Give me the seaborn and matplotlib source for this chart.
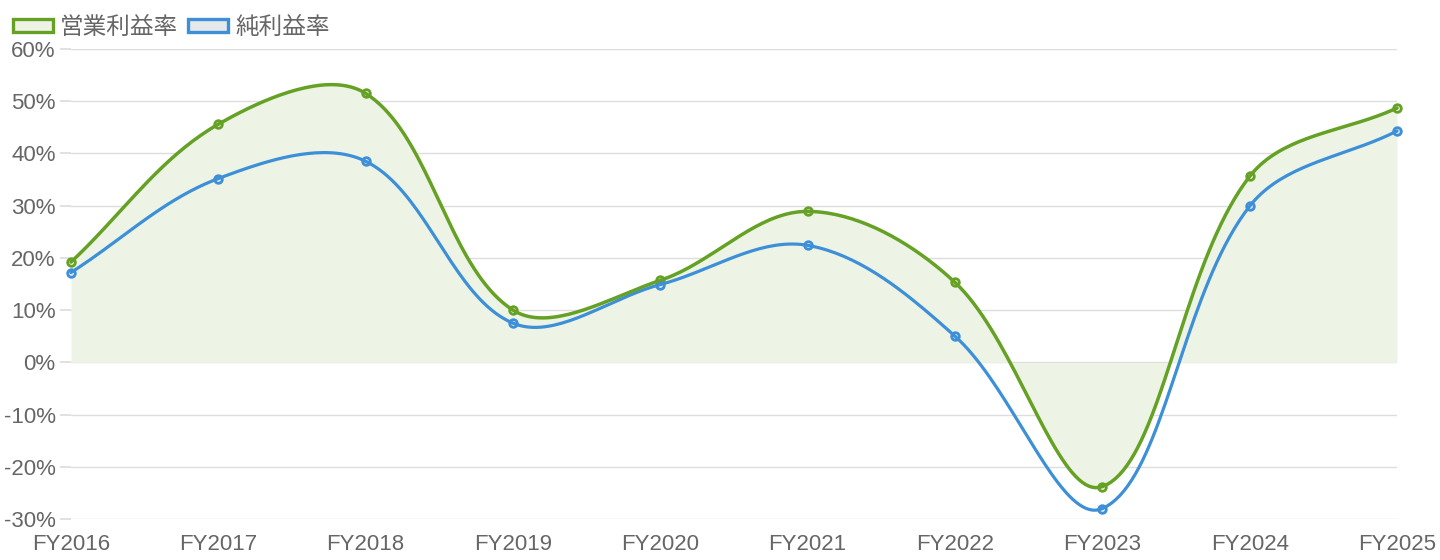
import numpy as np
import pandas as pd
import seaborn as sns
import matplotlib.pyplot as plt
from matplotlib.patches import Patch

# data
years = ["FY2016", "FY2017", "FY2018", "FY2019", "FY2020",
         "FY2021", "FY2022", "FY2023", "FY2024", "FY2025"]
operating_margin = [19.2, 45.6, 51.5, 10.0, 15.7, 28.9, 15.3, -23.8, 35.6, 48.7]
net_margin = [17.2, 35.2, 38.5, 7.5, 14.9, 22.4, 5.0, -28.0, 29.9, 44.3]
y_ticks = [-30, -20, -10, 0, 10, 20, 30, 40, 50, 60]

GREEN = "#65a125"
BLUE = "#3d8fd8"
GREEN_FILL = "#edf4e5"
GRID = "#dddddd"
TEXT = "#666666"

# pixel size of one unit on each axis (used for spline tension, like Chart.js)
PX_X = 147.3
PX_Y = 5.22


def smooth(values, tension=0.35, n=40):
    """Cubic bezier through the points, same control-point rule as Chart.js."""
    px = np.arange(len(values)) * PX_X
    py = np.array(values) * PX_Y
    pts = np.column_stack([px, py])
    cp_prev, cp_next = [], []
    for i in range(len(pts)):
        prev = pts[max(i - 1, 0)]
        cur = pts[i]
        nxt = pts[min(i + 1, len(pts) - 1)]
        d01 = np.hypot(*(cur - prev))
        d12 = np.hypot(*(nxt - cur))
        tot = d01 + d12
        s01 = d01 / tot if tot else 0
        s12 = d12 / tot if tot else 0
        cp_prev.append(cur - tension * s01 * (nxt - prev))
        cp_next.append(cur + tension * s12 * (nxt - prev))
    t = np.linspace(0, 1, n)[:, None]
    out = []
    for i in range(len(pts) - 1):
        p0, p1, p2, p3 = pts[i], cp_next[i], cp_prev[i + 1], pts[i + 1]
        seg = ((1 - t) ** 3) * p0 + 3 * ((1 - t) ** 2) * t * p1 \
            + 3 * (1 - t) * t ** 2 * p2 + t ** 3 * p3
        out.append(seg if i == 0 else seg[1:])
    out = np.vstack(out)
    return out[:, 0] / PX_X, out[:, 1] / PX_Y


sns.set_theme(style="white")
plt.rcParams["font.family"] = ["Liberation Sans", "Noto Sans CJK JP", "DejaVu Sans"]

fig = plt.figure(figsize=(14.4, 5.6), dpi=100)
ax = fig.add_axes([71 / 1440, 41 / 560, 1326 / 1440, 470 / 560])

gx, gy = smooth(operating_margin)
bx, by = smooth(net_margin)

xs = np.arange(len(years))
# points sit under the lines, as in the reference
sns.scatterplot(x=xs, y=operating_margin, s=30, color=GREEN_FILL, edgecolor=GREEN,
                linewidth=2.0, ax=ax, zorder=2)
sns.scatterplot(x=xs, y=net_margin, s=30, color="#dde8f2", edgecolor=BLUE,
                linewidth=2.0, ax=ax, zorder=2)

ax.fill_between(gx, gy, 0, color=GREEN_FILL, lw=0, zorder=1)
sns.lineplot(x=gx, y=gy, sort=False, estimator=None, color=GREEN, lw=2.5, ax=ax, zorder=4)
sns.lineplot(x=bx, y=by, sort=False, estimator=None, color=BLUE, lw=2.3, ax=ax, zorder=3)

ax.set_xlim(0, len(years) - 1)
ax.set_ylim(-30, 60)
ax.set_xticks(xs)
ax.set_xticklabels(years)
ax.set_yticks(y_ticks)
ax.set_yticklabels([f"{v}%" for v in y_ticks])
ax.yaxis.grid(True, color=GRID, lw=1)
ax.xaxis.grid(False)
for s in ax.spines.values():
    s.set_visible(False)
ax.tick_params(axis="y", length=8, color=GRID, pad=3, labelsize=16, labelcolor=TEXT, left=True)
ax.tick_params(axis="x", length=0, pad=11, labelsize=16, labelcolor=TEXT)
for coll in ax.collections + ax.lines:
    coll.set_clip_on(False)

handles = [
    Patch(facecolor="#eef3e6", edgecolor=GREEN, lw=2.4, label="営業利益率"),
    Patch(facecolor="#e6e9ec", edgecolor=BLUE, lw=2.4, label="純利益率"),
]
fig.legend(handles=handles, loc="upper left", bbox_to_anchor=(13 / 1440, 1 - 16 / 560),
           ncol=2, frameon=False, prop={"family": ["Noto Sans CJK JP"], "size": 17},
           labelcolor=TEXT, handlelength=1.7, handleheight=0.5, handletextpad=0.3,
           columnspacing=0.4, borderpad=0, borderaxespad=0)

fig.savefig("out.png", dpi=100)
